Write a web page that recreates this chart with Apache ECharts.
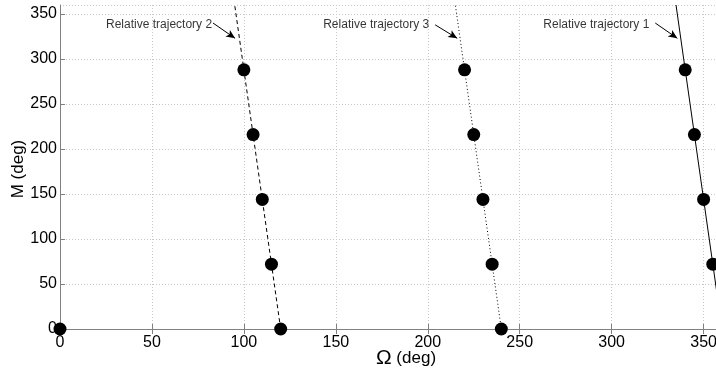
<!DOCTYPE html>
<html>
<head>
<meta charset="utf-8">
<script src="https://cdn.jsdelivr.net/npm/echarts@6/dist/echarts.min.js"></script>
<style>
  html, body { margin: 0; padding: 0; background: #fff; }
  #chart { width: 716px; height: 371px; }
</style>
</head>
<body>
<div id="chart"></div>
<script>
// axis ticks (deg)
const xTicks = [0, 50, 100, 150, 200, 250, 300, 350];
const yTicks = [0, 50, 100, 150, 200, 250, 300, 350];

// discrete points along each relative trajectory [Omega, M]
const traj1Points = [[0, 0], [355, 72], [350, 144], [345, 216], [340, 288]];
const traj2Points = [[120, 0], [115, 72], [110, 144], [105, 216], [100, 288]];
const traj3Points = [[240, 0], [235, 72], [230, 144], [225, 216], [220, 288]];

// straight trajectories, bottom to top of the plot
const traj1Line = [[360, 0], [335, 360]];
const traj2Line = [[120, 0], [95, 360]];
const traj3Line = [[240, 0], [215, 360]];

// annotation labels with arrow tail / tip
const annotText = ['Relative trajectory 1', 'Relative trajectory 2', 'Relative trajectory 3'];
const annotTextPos = [[320.5, 338], [82.7, 338], [200.8, 338]];
const annotTail = [[323.7, 340], [83.2, 340], [204, 338]];
const annotTip = [[335.7, 323], [95.2, 323], [216, 323]];

const chart = echarts.init(document.getElementById('chart'));

const font = 'Liberation Sans, Arial, sans-serif';
const axisGray = '#808080';

function lineSeries(data, type, i) {
    return {
        type: 'line',
        data: data,
        symbol: 'none',
        silent: true,
        lineStyle: { color: '#000', width: 1, type: type },
        markLine: {
            silent: true,
            symbol: ['none', 'arrow'],
            symbolSize: [6, 9],
            label: { show: false },
            lineStyle: { color: '#000', width: 1, type: 'solid' },
            data: [[{ coord: annotTail[i] }, { coord: annotTip[i] }]],
        },
        z: 3,
    };
}

function pointSeries(data) {
    return {
        type: 'scatter',
        data: data,
        symbol: 'circle',
        symbolSize: 13,
        itemStyle: { color: '#000', opacity: 1 },
        emphasis: { disabled: true },
        clip: false,
        z: 4,
    };
}

const option = {
    animation: false,
    backgroundColor: '#fff',
    textStyle: { fontFamily: font },
    grid: {
        left: 60,
        top: 5,
        width: 662,
        height: 324,
        outerBoundsMode: 'none',
        containLabel: false,
    },
    xAxis: [
        {
            type: 'value',
            min: 0,
            max: 360,
            interval: 50,
            name: '{o|Ω} (deg)',
            nameLocation: 'middle',
            nameGap: 19,
            nameMoveOverlap: false,
            nameTextStyle: {
                fontSize: 17,
                color: '#000',
                fontFamily: font,
                verticalAlign: 'top',
                padding: [0, 0, 0, 30],
                rich: { o: { fontSize: 21, color: '#000', fontFamily: font } },
            },
            axisLine: { show: true, onZero: false, lineStyle: { color: axisGray } },
            axisTick: { show: true, inside: true, length: 5, lineStyle: { color: axisGray } },
            axisLabel: {
                showMaxLabel: false,
                fontSize: 16,
                color: '#000',
                margin: 6,
                fontFamily: font,
            },
            splitLine: { show: true, lineStyle: { color: '#c8c8c8', type: [1, 2] } },
        },
        {
            type: 'value',
            position: 'top',
            min: 0,
            max: 360,
            interval: 50,
            axisLine: { show: true, lineStyle: { color: axisGray } },
            axisTick: { show: true, inside: true, length: 5, lineStyle: { color: axisGray } },
            axisLabel: { show: false },
            splitLine: { show: false },
        },
    ],
    yAxis: {
        type: 'value',
        min: 0,
        max: 360,
        interval: 50,
        name: 'M (deg)',
        nameLocation: 'middle',
        nameRotate: 90,
        nameGap: 33,
        nameMoveOverlap: false,
        nameTextStyle: { fontSize: 17, color: '#000', fontFamily: font, padding: [0, 4, 0, 0] },
        axisLine: { show: true, onZero: false, lineStyle: { color: axisGray } },
        axisTick: { show: true, inside: true, length: 5, lineStyle: { color: axisGray } },
        axisLabel: {
            showMaxLabel: false,
            fontSize: 16,
            color: '#000',
            margin: 3,
            fontFamily: font,
        },
        splitLine: { show: true, lineStyle: { color: '#c8c8c8', type: [1, 2] } },
    },
    series: [
        lineSeries(traj1Line, 'solid', 0),
        lineSeries(traj2Line, [4, 3], 1),
        lineSeries(traj3Line, [1, 2.5], 2),
        pointSeries(traj1Points),
        pointSeries(traj2Points),
        pointSeries(traj3Points),
        {
            type: 'scatter',
            silent: true,
            symbolSize: 0,
            data: annotTextPos.map((p, i) => ({ value: p, name: annotText[i] })),
            label: {
                show: true,
                position: 'left',
                distance: 0,
                formatter: '{b}',
                fontSize: 12,
                color: '#000',
                fontFamily: font,
            },
            z: 5,
        },
    ],
};

chart.setOption(option);
</script>
</body>
</html>
